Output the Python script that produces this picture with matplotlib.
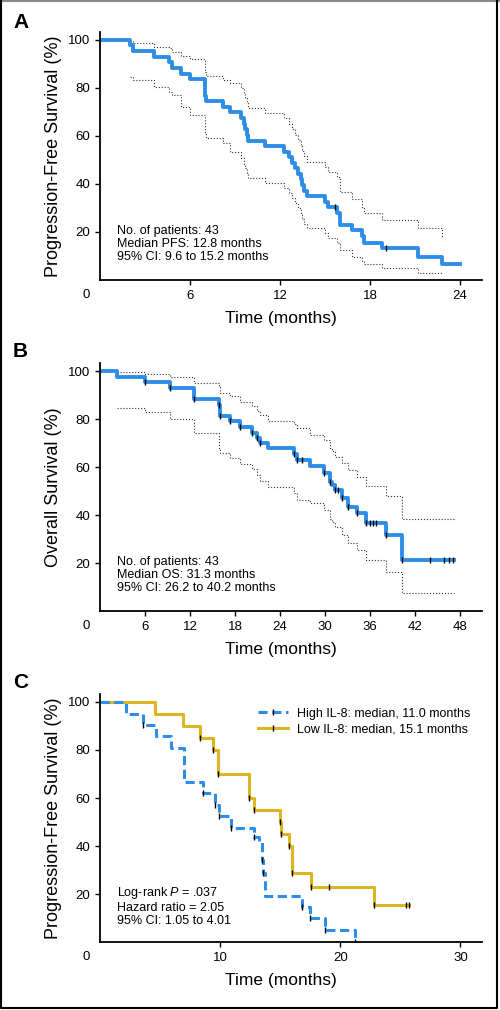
import numpy as np
import matplotlib.pyplot as plt
from matplotlib.lines import Line2D

plt.rcParams['font.family'] = ['Liberation Sans', 'DejaVu Sans']
plt.rcParams['mathtext.fontset'] = 'custom'
plt.rcParams['mathtext.rm'] = 'Liberation Sans'
plt.rcParams['mathtext.it'] = 'Liberation Sans:italic'

BLUE = '#2E8DE6'
GOLD = '#DDB520'

# Panel A: progression-free survival (step times in months, survival in %)
a_time = [0, 2.0, 2.2, 3.6, 4.6, 4.8, 5.4, 6.0, 7.0, 7.1, 8.2, 8.7, 9.4, 9.6, 9.7, 9.8, 9.9, 11.0, 12.3,
          12.6, 12.8, 13.0, 13.2, 13.4, 13.5, 13.6, 13.8, 15.0, 15.2, 15.8, 16.0, 16.8, 17.5, 17.6, 18.8,
          21.2, 22.8, 24.0]
a_surv = [100, 97.7, 95.3, 93.0, 90.7, 88.4, 86.0, 83.7, 76.7, 74.4, 72.1, 69.8, 67.4, 65.1, 62.8, 60.5,
          58.1, 55.8, 53.5, 51.2, 48.8, 46.5, 44.2, 41.9, 39.5, 37.2, 34.9, 32.6, 30.2, 27.9, 23.0, 20.8,
          18.3, 15.3, 13.2, 9.7, 6.5, 6.5]
a_upper = [100, 99.5, 98.9, 97.2, 96.5, 95.1, 93.5, 91.9, 86.5, 85.0, 83.5, 82.0, 80.0, 78.0, 76.0, 74.0,
           71.5, 69.4, 67.3, 65.0, 62.8, 60.5, 58.3, 56.0, 53.7, 51.5, 49.3, 47.2, 45.0, 42.7, 36.8, 33.8,
           30.0, 27.8, 25.0, 21.5, 18.0, 18.0]
a_lower = [100, 84.7, 83.3, 80.3, 78.5, 76.9, 72.2, 68.8, 61.0, 59.0, 57.0, 53.5, 51.0, 48.5, 46.5, 44.5,
           42.4, 40.3, 38.2, 36.1, 34.0, 31.9, 29.8, 27.7, 25.6, 23.5, 21.5, 19.4, 17.4, 15.5, 12.5, 9.7,
           8.0, 6.5, 4.9, 2.8, 2.8, 2.8]
a_censor = [15.7, 19.1]

# Panel B: overall survival
b_time = [0, 2.3, 6.0, 9.3, 12.5, 15.8, 16.0, 17.3, 18.6, 20.2, 20.9, 21.3, 22.4, 25.8, 26.2, 28.0, 29.9,
          30.6, 30.9, 31.3, 32.2, 33.0, 34.2, 35.5, 38.1, 40.2, 47.2]
b_surv = [100, 97.7, 95.3, 93.0, 88.4, 86.0, 81.4, 79.1, 76.7, 74.2, 72.0, 69.9, 67.8, 65.5, 62.9, 60.4,
          57.4, 53.9, 52.5, 50.4, 47.0, 43.5, 40.7, 36.8, 31.7, 21.3, 21.3]
b_upper = [100, 99.7, 98.8, 97.6, 95.1, 93.2, 91.0, 89.5, 87.2, 85.5, 83.5, 81.7, 79.3, 78.0, 76.1, 73.3,
           71.3, 68.0, 66.5, 64.3, 61.5, 58.8, 55.9, 52.1, 48.0, 38.3, 38.3]
b_lower = [100, 84.4, 83.0, 79.9, 74.0, 68.0, 66.0, 63.9, 61.1, 59.0, 56.5, 54.0, 51.8, 49.2, 46.3, 44.9,
           42.1, 38.5, 37.2, 35.0, 31.7, 28.3, 25.4, 21.3, 16.4, 7.4, 7.4]
b_censor = [6.0, 9.3, 12.5, 15.8, 16.0, 17.3, 18.6, 20.2, 20.9, 21.3, 25.8, 26.2, 26.9, 29.9, 30.6, 31.3,
            31.7, 32.2, 33.0, 34.2, 35.5, 36.0, 36.4, 36.8, 38.1, 40.2, 44.0, 45.8, 46.5, 47.0]

# Panel C: PFS by IL-8 level
hi_time = [0, 2.2, 3.6, 4.7, 5.9, 7.0, 8.6, 9.6, 9.9, 10.9, 12.8, 13.2, 13.5, 13.6, 13.75, 16.8, 17.5,
           18.75, 21.25]
hi_surv = [100, 95.2, 90.5, 85.7, 81.0, 66.7, 61.9, 57.1, 52.4, 47.6, 43.9, 41.8, 34.2, 28.6, 19.2, 14.7,
           9.9, 5.0, 0]
hi_censor = [3.6, 8.6, 9.6, 9.9, 10.9, 12.8, 13.5, 13.6, 16.8, 17.5, 18.75, 21.25]
lo_time = [0, 4.6, 6.9, 8.3, 9.4, 9.8, 12.4, 12.8, 15.0, 15.1, 15.7, 16.0, 17.6, 22.8, 25.7]
lo_surv = [100, 95, 90, 85, 80, 70, 60, 55, 50, 45, 40, 28.6, 23.1, 15.4, 15.4]
lo_censor = [8.3, 9.4, 9.8, 12.4, 12.8, 15.0, 15.1, 15.7, 16.0, 17.6, 19.1, 22.8, 25.5, 25.7]

y_ticks = [20, 40, 60, 80, 100]


def step_at(times, surv, t):
    i = np.searchsorted(times, t, side='right') - 1
    return np.asarray(surv)[i]


def draw_marks(ax, times, surv, marks):
    ys = [step_at(times, surv, t) for t in marks]
    ax.plot(marks, ys, ls='none', marker='|', color='black', markersize=4.5, mew=1.0, zorder=5)


def style_axes(ax, xmax, xticks, ylabel):
    ax.set_xlim(0, xmax)
    ax.set_ylim(0, 103.3)
    ax.spines[['top', 'right']].set_visible(False)
    ax.spines[['left', 'bottom']].set_linewidth(1.3)
    ax.set_xticks(xticks)
    ax.set_yticks(y_ticks)
    ax.tick_params(length=3.6, width=1, labelsize=9.5, pad=3.6)
    ax.annotate('0', xy=(0, 0), xycoords='axes fraction', xytext=(-10, -11),
                textcoords='offset points', ha='center', va='center', fontsize=9.5)
    ax.set_xlabel('Time (months)', fontsize=12.5)
    ax.xaxis.set_label_coords(0.474, -0.125)
    ax.set_ylabel(ylabel, fontsize=13)
    ax.yaxis.set_label_coords(-0.1, 0.5)


fig = plt.figure(figsize=(5, 10.1), dpi=100)
axA = fig.add_axes([0.2, 0.7228, 0.764, 0.2455])
axB = fig.add_axes([0.2, 0.395, 0.764, 0.2455])
axC = fig.add_axes([0.2, 0.0673, 0.764, 0.2455])

# A
axA.step(a_time[1:-1], a_upper[1:-1], where='post', ls=':', lw=0.8, color='#333333')
axA.step(a_time[1:-1], a_lower[1:-1], where='post', ls=':', lw=0.8, color='#333333')
axA.step(a_time, a_surv, where='post', color=BLUE, lw=2.8)
draw_marks(axA, a_time, a_surv, a_censor)
style_axes(axA, 25.47, [6, 12, 18, 24], 'Progression-Free Survival (%)')
axA.text(0.0445, 0.145, 'No. of patients: 43\nMedian PFS: 12.8 months\n95% CI: 9.6 to 15.2 months',
         transform=axA.transAxes, fontsize=9, va='center', ha='left', linespacing=1.15)

# B
axB.step(b_time[1:], b_upper[1:], where='post', ls=':', lw=0.8, color='#333333')
axB.step(b_time[1:], b_lower[1:], where='post', ls=':', lw=0.8, color='#333333')
axB.step(b_time, b_surv, where='post', color=BLUE, lw=2.8)
draw_marks(axB, b_time, b_surv, b_censor)
style_axes(axB, 50.9, [6, 12, 18, 24, 30, 36, 42, 48], 'Overall Survival (%)')
axB.text(0.0445, 0.145, 'No. of patients: 43\nMedian OS: 31.3 months\n95% CI: 26.2 to 40.2 months',
         transform=axB.transAxes, fontsize=9, va='center', ha='left', linespacing=1.15)

# C
axC.step(lo_time, lo_surv, where='post', color=GOLD, lw=2.2)
axC.step(hi_time, hi_surv, where='post', color=BLUE, lw=2.2, ls=(0, (3, 1.5)))
draw_marks(axC, lo_time, lo_surv, lo_censor)
draw_marks(axC, hi_time, hi_surv, hi_censor)
style_axes(axC, 31.8, [10, 20, 30], 'Progression-Free Survival (%)')
axC.text(0.0445, 0.145, 'Log-rank $P$ = .037\nHazard ratio = 2.05\n95% CI: 1.05 to 4.01',
         transform=axC.transAxes, fontsize=9, va='center', ha='left', linespacing=1.15)
handles = [
    Line2D([], [], color=BLUE, lw=2.2, ls=(0, (3, 1.5)), marker='|', mec='black', ms=4, mew=1.0),
    Line2D([], [], color=GOLD, lw=2.2, marker='|', mec='black', ms=4, mew=1.0),
]
axC.legend(handles, ['High IL-8: median, 11.0 months', 'Low IL-8: median, 15.1 months'],
           loc='upper left', bbox_to_anchor=(0.414, 0.945), frameon=False, fontsize=9,
           handlelength=2.4, handletextpad=0.7, labelspacing=0.3, borderpad=0, borderaxespad=0,
           numpoints=1)

# panel letters
for y, letter in [(0.9777, 'A'), (0.6515, 'B'), (0.3238, 'C')]:
    fig.text(0.026, y, letter, fontsize=15, fontweight='bold', ha='left', va='center')

# outer frame
fig.add_artist(Line2D([0, 1], [0.999, 0.999], transform=fig.transFigure, color='#888888', lw=1.5))
fig.add_artist(Line2D([0.002, 0.002, 0.994, 0.994], [0.999, 0.002, 0.002, 0.999],
                      transform=fig.transFigure, color='black', lw=1.5))

fig.savefig('out.png', dpi=100)
